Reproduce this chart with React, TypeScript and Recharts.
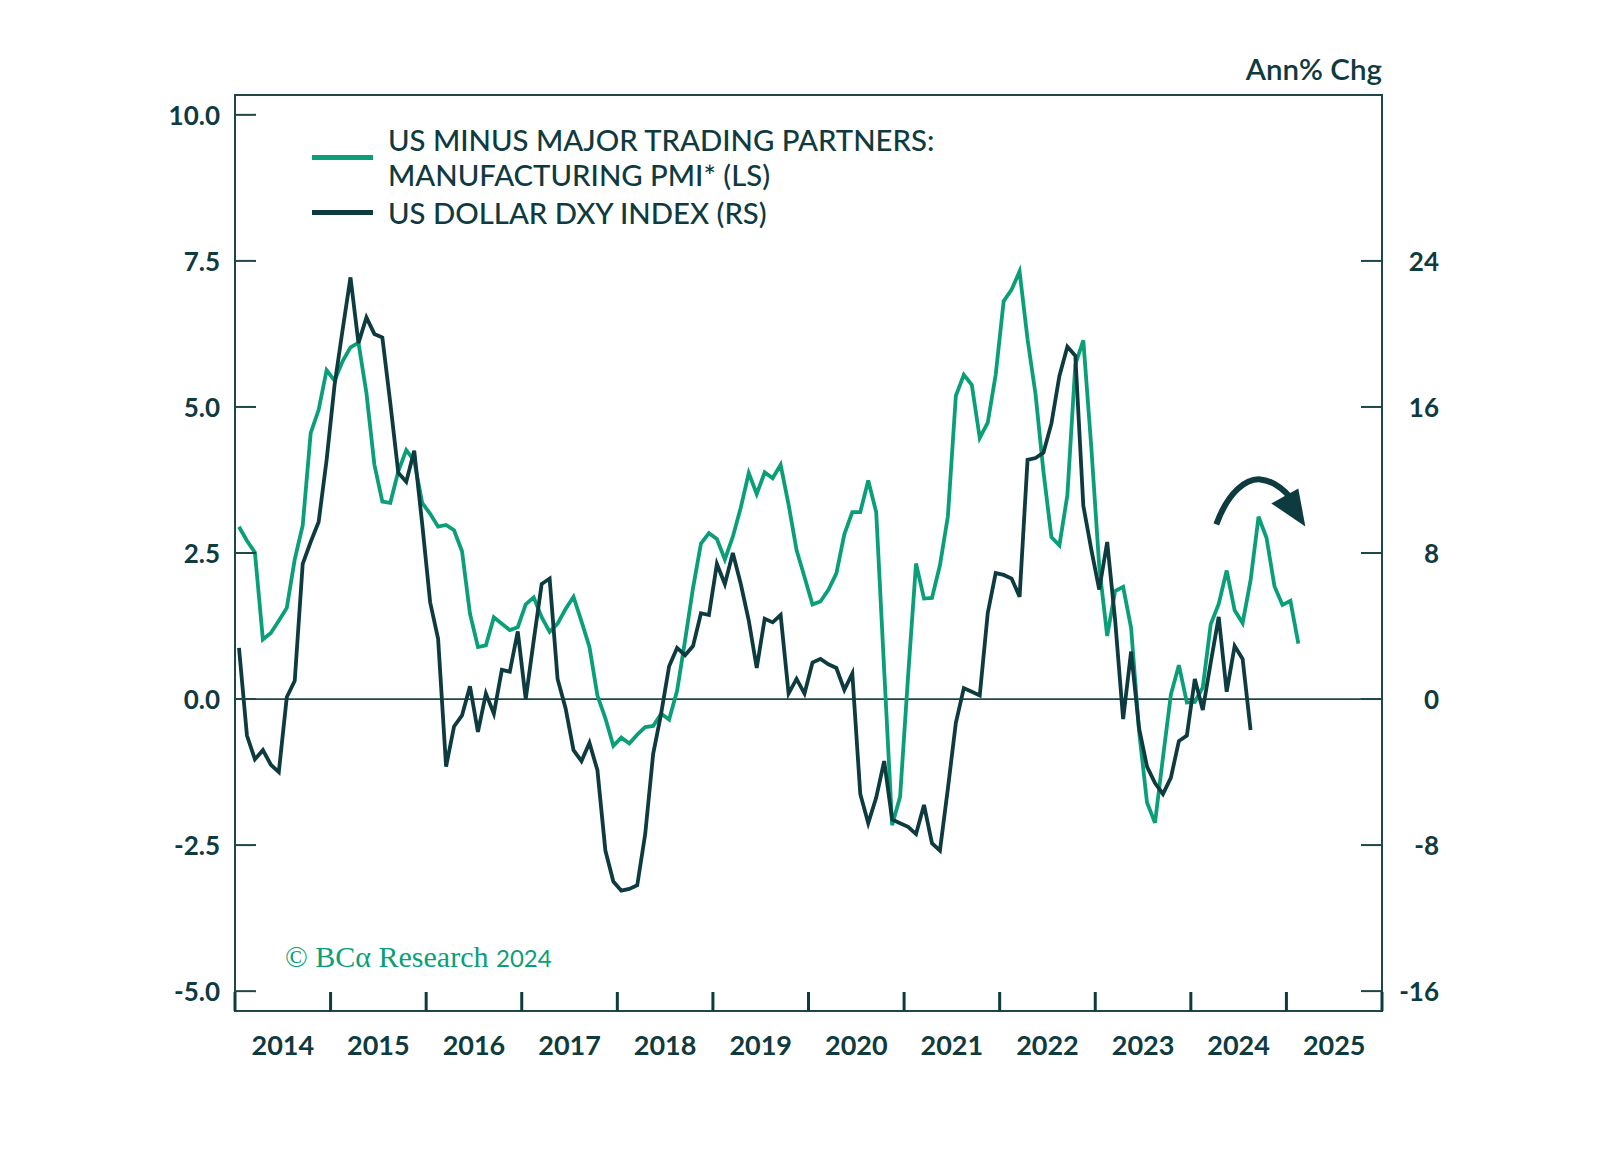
import { Line, LineChart, ReferenceArea, ReferenceDot, ReferenceLine, XAxis, YAxis } from "recharts";

// US minus major trading partners: manufacturing PMI (LS), monthly from Jan 2014, advanced 6 months
const pmiGap = [
  2.95, 2.71, 2.51, 1.02, 1.13, 1.34, 1.56, 2.39, 2.97, 4.55,
  4.95, 5.63, 5.45, 5.78, 6.02, 6.1, 5.24, 4.01, 3.38, 3.36,
  3.9, 4.26, 4.08, 3.36, 3.17, 2.95, 2.98, 2.89, 2.53, 1.46,
  0.89, 0.92, 1.4, 1.29, 1.18, 1.23, 1.62, 1.74, 1.4, 1.15,
  1.29, 1.54, 1.75, 1.33, 0.89, 0.06, -0.33, -0.8, -0.66, -0.76,
  -0.61, -0.48, -0.46, -0.25, -0.35, 0.14, 1.0, 1.9, 2.66, 2.84,
  2.74, 2.39, 2.78, 3.28, 3.87, 3.51, 3.88, 3.78, 4.01, 3.33,
  2.55, 2.09, 1.62, 1.67, 1.87, 2.15, 2.82, 3.2, 3.2, 3.74,
  3.2, 0.5, -2.16, -1.67, 0.39, 2.32, 1.72, 1.73, 2.29, 3.13,
  5.19, 5.55, 5.38, 4.47, 4.73, 5.55, 6.81, 7.01, 7.32, 6.16,
  5.22, 3.89, 2.77, 2.63, 3.49, 5.73, 6.14, 4.32, 2.27, 1.08,
  1.85, 1.92, 1.22, -0.55, -1.77, -2.12, -1.0, 0.08, 0.58, -0.06,
  -0.05, 0.2, 1.28, 1.63, 2.2, 1.52, 1.3, 2.03, 3.12, 2.76,
  1.93, 1.61, 1.68, 0.95,
];

// US dollar DXY index, annual % change (RS), monthly from Jan 2014
const dxyYoy = [
  2.8, -2.0, -3.3, -2.8, -3.6, -4.0, 0.1, 1.0, 7.4, 8.6,
  9.7, 13.1, 17.2, 20.2, 23.1, 19.5, 20.9, 20.0, 19.8, 16.2,
  12.4, 11.9, 13.6, 9.6, 5.3, 3.3, -3.7, -1.5, -0.9, 0.7,
  -1.8, 0.3, -0.8, 1.6, 1.5, 3.7, 0.0, 3.2, 6.3, 6.6,
  1.1, -0.5, -2.8, -3.4, -2.4, -3.9, -8.3, -10.0, -10.5, -10.4,
  -10.2, -7.4, -3.0, -0.8, 1.8, 2.8, 2.4, 2.9, 4.7, 4.6,
  7.4, 6.3, 8.0, 6.3, 4.3, 1.7, 4.4, 4.2, 4.6, 0.3,
  1.1, 0.3, 2.0, 2.2, 1.9, 1.7, 0.5, 1.4, -5.2, -6.8,
  -5.4, -3.4, -6.6, -6.8, -7.0, -7.4, -5.8, -7.9, -8.3, -4.9,
  -1.3, 0.6, 0.4, 0.2, 4.7, 6.9, 6.8, 6.6, 5.6, 13.1,
  13.2, 13.5, 15.1, 17.7, 19.3, 18.8, 10.6, 8.2, 6.0, 8.6,
  4.3, -1.1, 2.6, -1.6, -3.7, -4.6, -5.2, -4.3, -2.3, -2.0,
  1.1, -0.6, 2.0, 4.5, 0.4, 2.9, 2.2, -1.7,
];

const yearTicks = [2014, 2015, 2016, 2017, 2018, 2019, 2020, 2021, 2022, 2023, 2024, 2025, 2026];
const leftTicks = [-5, -2.5, 0, 2.5, 5, 7.5, 10];
const rightTicks = [-16, -8, 0, 8, 16, 24];

const rows = pmiGap.map((p, i) => ({
  t: 2014 + (i + 0.5) / 12,
  pmi: p,
  dxy: i < dxyYoy.length ? dxyYoy[i] : null,
}));

const C = {
  green: "#0a9f78",
  dark: "#0d3b3f",
  text: "#0f3a3e",
  frame: "#1f4649",
};

const FONT = "Lato, 'Open Sans', sans-serif";
const W = 1600;
const H = 1140;
const PL = 227; // plot left
const PR = 1374; // plot right
const PB = 1003; // plot bottom
const HALF_YEAR = (PR - PL) / 24;

const LDOM: [number, number] = [-5.34, 10.34];
const RDOM: [number, number] = [-17.09, 33.09];

function XTick({ x, payload }: any) {
  const v = payload.value;
  return (
    <g>
      <line x1={x} x2={x} y1={PB} y2={PB - 19} stroke={C.dark} strokeWidth={3} />
      {v < 2026 && (
        <text x={x + HALF_YEAR} y={1036} textAnchor="middle" dominantBaseline="central"
          fill={C.text} fontFamily={FONT} fontSize={27} fontWeight={700}>
          {v}
        </text>
      )}
    </g>
  );
}

function LTick({ y, payload }: any) {
  return (
    <g>
      <line x1={PL} x2={PL + 21} y1={y} y2={y} stroke={C.frame} strokeWidth={2} />
      <text x={212} y={y} textAnchor="end" dominantBaseline="central"
        fill={C.text} fontFamily={FONT} fontSize={26} fontWeight={700}>
        {payload.value.toFixed(1)}
      </text>
    </g>
  );
}

function RTick({ y, payload }: any) {
  return (
    <g>
      <line x1={PR - 21} x2={PR} y1={y} y2={y} stroke={C.frame} strokeWidth={2} />
      <text x={1431} y={y} textAnchor="end" dominantBaseline="central"
        fill={C.text} fontFamily={FONT} fontSize={26} fontWeight={700}>
        {payload.value}
      </text>
    </g>
  );
}

function Arrow({ cx, cy }: any) {
  return (
    <g transform={`translate(${cx},${cy})`}>
      <path d="M -42 45 C -30 12 -12 -1 2 0 C 14 1 24 9 32 18" fill="none" stroke={C.dark} strokeWidth={6} />
      <path d="M 13 24 L 40 9 L 47 47 Z" fill={C.dark} />
    </g>
  );
}

function Overlay() {
  const swatch = (top: number, color: string) => (
    <div style={{ position: "absolute", left: 304, top: top - 2.5, width: 61, height: 5, background: color }} />
  );
  const line = (top: number, s: string) => (
    <div style={{ position: "absolute", left: 380, top: top - 17, height: 34, lineHeight: "34px", whiteSpace: "nowrap" }}>{s}</div>
  );
  return (
    <div style={{ position: "absolute", left: 0, top: 0, width: W, height: H, pointerEvents: "none",
      fontFamily: FONT, color: C.text, fontSize: 29.3, fontWeight: 500 }}>
      {swatch(149, C.green)}
      {swatch(204, C.dark)}
      {line(132, "US MINUS MAJOR TRADING PARTNERS:")}
      {line(167, "MANUFACTURING PMI* (LS)")}
      {line(205, "US DOLLAR DXY INDEX (RS)")}
      <div style={{ position: "absolute", right: W - PR, top: 43, whiteSpace: "nowrap", fontSize: 29.5, fontWeight: 600 }}>Ann% Chg</div>
      <div style={{ position: "absolute", left: 277, top: 931, whiteSpace: "nowrap", color: C.green, lineHeight: "34px" }}>
        <span style={{ fontFamily: "'Liberation Serif', serif", fontSize: 30, fontWeight: 400 }}>© BCα Research </span>
        <span style={{ fontFamily: "Lato, sans-serif", fontSize: 24, fontWeight: 400 }}>2024</span>
      </div>
    </div>
  );
}

export default function App() {
  return (
    <div style={{ position: "relative", width: W, height: H, background: "#fff" }}>
      <LineChart width={W} height={H} data={rows} margin={{ top: 87, right: 146, bottom: 77, left: 147 }}>
        <XAxis dataKey="t" type="number" domain={[2014, 2026]} ticks={yearTicks} interval={0} height={60}
          axisLine={false} tickLine={false} tick={<XTick />} allowDataOverflow />
        <YAxis yAxisId="l" width={80} domain={LDOM} ticks={leftTicks} interval={0}
          axisLine={false} tickLine={false} tick={<LTick />} allowDataOverflow />
        <YAxis yAxisId="r" orientation="right" width={80} domain={RDOM} ticks={rightTicks} interval={0}
          axisLine={false} tickLine={false} tick={<RTick />} allowDataOverflow />
        <ReferenceArea yAxisId="l" x1={2014} x2={2026} y1={LDOM[0]} y2={LDOM[1]} fill="none" stroke={C.frame} strokeWidth={2} />
        <ReferenceLine yAxisId="l" y={0} stroke={C.frame} strokeWidth={1.8} />
        <Line yAxisId="l" type="linear" dataKey="pmi" stroke={C.green} strokeWidth={3.8} dot={false} isAnimationActive={false} />
        <Line yAxisId="r" type="linear" dataKey="dxy" stroke={C.dark} strokeWidth={3.8} dot={false} isAnimationActive={false} />
        <ReferenceDot yAxisId="l" x={2024.706} y={3.76} r={1} shape={<Arrow />} />
      </LineChart>
      <Overlay />
    </div>
  );
}
